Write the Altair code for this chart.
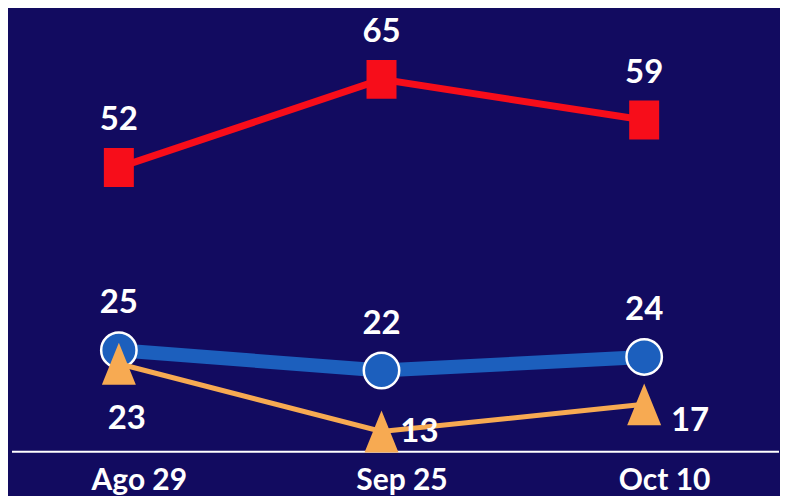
import altair as alt
import pandas as pd

fechas = ["Ago 29", "Sep 25", "Oct 10"]
rojo = [52, 65, 59]
azul = [25, 22, 24]
naranja = [23, 13, 17]

df = pd.DataFrame({
    "fecha": fechas * 3,
    "serie": ["rojo"] * 3 + ["azul"] * 3 + ["naranja"] * 3,
    "valor": rojo + azul + naranja,
})

W, H = 772, 444
BG = "#120b60"
RED = "#f70d1a"
BLUE = "#1c5fbd"
ORANGE = "#f7aa52"
FONT = "Lato"

x = alt.X(
    "fecha:N", sort=fechas,
    scale=alt.Scale(type="point", range=[111, 637], padding=0),
    axis=alt.Axis(title=None, domain=False, ticks=False, tickSize=0, grid=False,
                  labelAngle=0, labelFont=FONT, labelFontWeight="bold",
                  labelFontSize=30, labelColor="white", labelPadding=14,
                  labelOffset=20),
)
y = alt.Y("valor:Q", scale=alt.Scale(domain=[10, 75.5], nice=False, zero=False), axis=None)

base = alt.Chart(df).encode(x=x, y=y)


def serie(name):
    return base.transform_filter(alt.datum.serie == name)


rect_path = "M-0.77,-1L0.77,-1L0.77,1L-0.77,1Z"
tri_path = "M0,-1L0.81,1L-0.81,1Z"

red_line = serie("rojo").mark_line(color=RED, strokeWidth=7)
red_pts = serie("rojo").mark_point(shape=rect_path, size=1521, filled=True,
                                    color=RED, opacity=1)
blue_line = serie("azul").mark_line(color=BLUE, strokeWidth=14)
blue_pts = serie("azul").mark_point(shape="circle", size=1257, filled=True,
                                     fill=BLUE, stroke="white", strokeWidth=2.5,
                                     opacity=1)
orange_line = serie("naranja").mark_line(color=ORANGE, strokeWidth=5)
orange_pts = serie("naranja").mark_point(shape=tri_path, size=1764, filled=True,
                                          color=ORANGE, opacity=1)

txt = dict(font=FONT, fontWeight="bold", fontSize=33, color="white", baseline="middle")
red_lbl = serie("rojo").mark_text(dy=-47, **txt).encode(text="valor:Q")
blue_lbl = serie("azul").mark_text(dy=-47, **txt).encode(text="valor:Q")
o = serie("naranja")
o1 = o.transform_filter(alt.datum.fecha == fechas[0]).mark_text(dx=8, dy=55, **txt).encode(text="valor:Q")
o2 = o.transform_filter(alt.datum.fecha == fechas[1]).mark_text(dx=38, dy=1, **txt).encode(text="valor:Q")
o3 = o.transform_filter(alt.datum.fecha == fechas[2]).mark_text(dx=46, dy=17, **txt).encode(text="valor:Q")

axis_line = alt.Chart(pd.DataFrame({"a": [0]})).mark_rule(color="white", strokeWidth=2).encode(
    x=alt.value(4), x2=alt.value(W), y=alt.value(H)
)

chart = alt.layer(
    axis_line, red_line, red_pts, blue_line, blue_pts, orange_line, orange_pts,
    red_lbl, blue_lbl, o1, o2, o3,
).properties(
    width=W, height=H, padding=0, background=BG
).configure_view(stroke=None)

chart.save("out.html", embed_options={"renderer": "svg", "actions": False})
